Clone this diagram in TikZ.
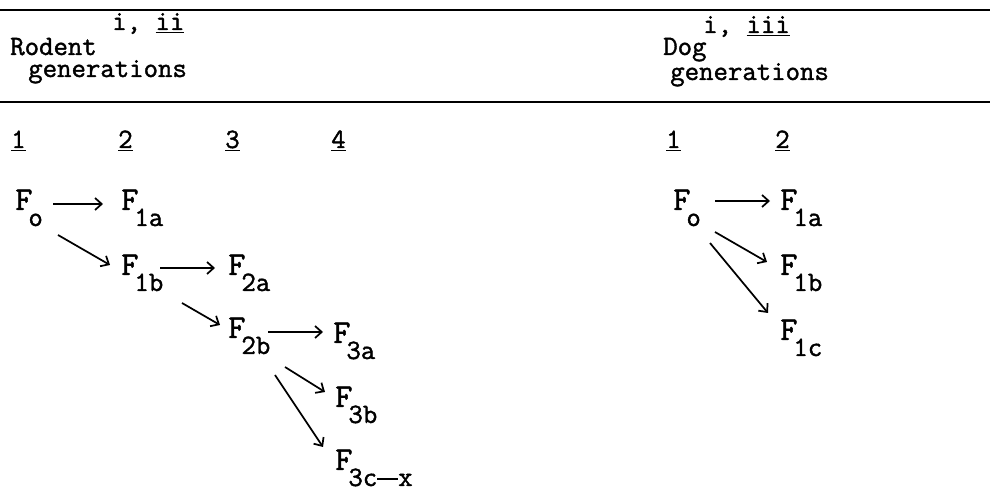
\documentclass[tikz,border=0pt]{standalone}
\usepackage{fontspec}
\newfontfamily\tw[FakeBold=1.4]{Latin Modern Mono}
\usetikzlibrary{arrows.meta,calc}
\newcommand{\Fsub}[1]{F\kern-3pt\raisebox{-12pt}{\fontsize{21}{22}\selectfont #1}}
\newcommand{\tdash}{\rule[0.22em]{0.75em}{0.07em}}
\begin{document}
\begin{tikzpicture}[x=0.75pt,y=-0.75pt,
  txt/.style={inner sep=0pt,anchor=base west,font=\tw\fontsize{21}{23}\selectfont},
  fnode/.style={inner sep=0pt,anchor=base west,font=\tw\fontsize{25}{28}\selectfont},
  rulebar/.style={line width=1.8pt},
  arr/.style={line width=1.3pt,-{Straight Barb[length=5pt,width=9pt,line width=1.3pt]}}]
\useasboundingbox (0,0) rectangle (990,491);
% rules
\coordinate (r1l) at (0,10);  \coordinate (r1r) at (990,10);
\coordinate (r2l) at (0,102); \coordinate (r2r) at (990,102);
\draw[rulebar] (r1l) -- (r1r);
\draw[rulebar] (r2l) -- (r2r);
% header
\node[txt] (rodent) at (10,55) {Rodent};
\node[txt] (rsup) at (112,30) {i, \underline{ii}};
\node[txt] (rgen) at (28,77) {generations};
\node[txt] (dog) at (663,55) {Dog};
\node[txt] (dsup) at (703,33) {i, \underline{iii}};
\node[txt] (dgen) at (670,80) {generations};
% generation numbers
\node[txt] (n1) at (11,148) {\underline{1}};
\node[txt] (n2) at (118,148) {\underline{2}};
\node[txt] (n3) at (225,148) {\underline{3}};
\node[txt] (n4) at (331,148) {\underline{4}};
\node[txt] (m1) at (666,148) {\underline{1}};
\node[txt] (m2) at (775,148) {\underline{2}};
% rodent tree
\node[fnode] (Fo)  at (15,210)  {\Fsub{o}};
\node[fnode] (F1a) at (121,210) {\Fsub{1a}};
\node[fnode] (F1b) at (121,275) {\Fsub{1b}};
\node[fnode] (F2a) at (228,275) {\Fsub{2a}};
\node[fnode] (F2b) at (228,338) {\Fsub{2b}};
\node[fnode] (F3a) at (333,343) {\Fsub{3a}};
\node[fnode] (F3b) at (335,407) {\Fsub{3b}};
\node[fnode] (F3c) at (335,470) {\Fsub{3c\tdash x}};
% dog tree
\node[fnode] (Go)  at (673,210) {\Fsub{o}};
\node[fnode] (G1a) at (780,210) {\Fsub{1a}};
\node[fnode] (G1b) at (780,275) {\Fsub{1b}};
\node[fnode] (G1c) at (780,340) {\Fsub{1c}};
% rodent arrows
\draw[arr] ($(Fo.base west)+(38,-6)$) -- ($(F1a.base west)+(-18,-6)$);
\draw[arr] ($(Fo.base west)+(43,25)$) -- ($(F1b.base west)+(-11,-10)$);
\draw[arr] ($(F1b.base west)+(39,-7)$) -- ($(F2a.base west)+(-13,-7)$);
\draw[arr] ($(F1b.base west)+(61,28)$) -- ($(F2b.base west)+(-8,-13)$);
\draw[arr] ($(F2b.base west)+(40,-6)$) -- ($(F3a.base west)+(-10,-11)$);
\draw[arr] ($(F2b.base west)+(57,29)$) -- ($(F3b.base west)+(-10,-15)$);
\draw[arr] ($(F2b.base west)+(47,37)$) -- ($(F3c.base west)+(-12,-23)$);
% dog arrows
\draw[arr] ($(Go.base west)+(42,-9)$) -- ($(G1a.base west)+(-10,-9)$);
\draw[arr] ($(Go.base west)+(42,22)$) -- ($(G1b.base west)+(-13,-13)$);
\draw[arr] ($(Go.base west)+(37,33)$) -- ($(G1c.base west)+(-12,-27)$);
\end{tikzpicture}
\end{document}
